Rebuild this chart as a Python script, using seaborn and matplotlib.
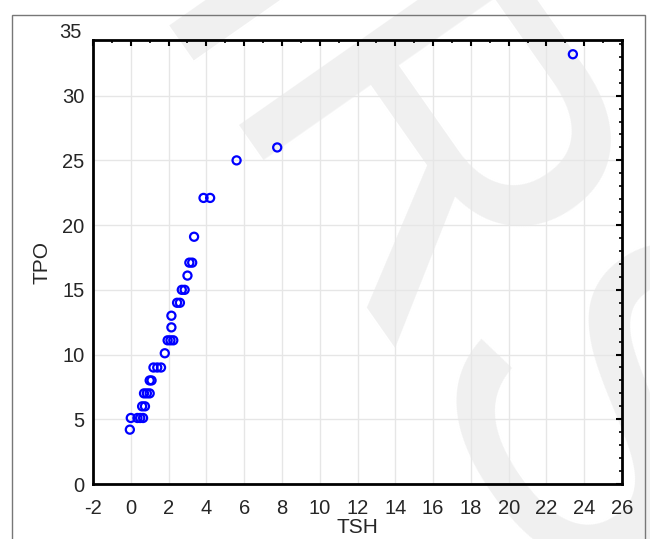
import numpy as np
import pandas as pd
import seaborn as sns
import matplotlib.pyplot as plt
from matplotlib.patches import Rectangle
from matplotlib.ticker import MultipleLocator
import matplotlib.transforms as mtransforms

# valores
tsh = [23.4, 7.75, 5.6, 3.85, 4.2, 3.35, 3.1, 3.25, 3.0, 2.7, 2.85, 2.45, 2.6,
       2.15, 2.15, 1.95, 2.1, 2.25, 1.8, 1.2, 1.4, 1.6, 1.0, 1.1, 0.7, 0.85, 1.0,
       0.6, 0.75, 0.0, 0.35, 0.5, 0.65, -0.05]
tpo = [33.2, 26, 25, 22.1, 22.1, 19.1, 17.1, 17.1, 16.1, 15, 15, 14, 14,
       13, 12.1, 11.1, 11.1, 11.1, 10.1, 9, 9, 9, 8, 8, 7, 7, 7,
       6, 6, 5.1, 5.1, 5.1, 5.1, 4.2]

dados = pd.DataFrame({'TSH': tsh, 'TPO': tpo})

sns.set_style('white')
plt.rcParams['font.family'] = ['Liberation Sans', 'DejaVu Sans']
plt.rcParams['axes.unicode_minus'] = False

fig = plt.figure(figsize=(6.5, 5.39), dpi=100)
ax = fig.add_axes([93/650, 1-484/539, (622-93)/650, (484-40)/539])
ax.patch.set_alpha(0)

# marca d'agua
fig.text(0.68, 0.5, 'IRS', fontsize=330, color='#f0f0f0', rotation=-55,
         ha='center', va='center', zorder=-1)

# moldura externa
fig.patches.append(Rectangle((12/650, -0.02), (645-12)/650, 1.02-15/539,
                             transform=fig.transFigure, fill=False,
                             edgecolor='#777777', linewidth=1))

sns.scatterplot(x='TSH', y='TPO', data=dados, ax=ax, marker='o', s=34,
                facecolor='none', edgecolor='#0000ff', linewidth=1.6, zorder=3)

ax.set_xlim(-2, 26)
ax.set_ylim(0, 34.3)
ax.xaxis.set_major_locator(MultipleLocator(2))
ax.xaxis.set_minor_locator(MultipleLocator(1))
ax.yaxis.set_major_locator(MultipleLocator(5))
ax.yaxis.set_minor_locator(MultipleLocator(1))
ax.set_yticks([0, 5, 10, 15, 20, 25, 30])
ax.grid(True, which='major', color='#e6e6e6', linewidth=1)
ax.tick_params(which='both', direction='in', top=True, right=True,
               labelsize=14.5, color='black')
ax.tick_params(which='major', length=4, width=1.5)
ax.tick_params(which='minor', length=2.5, width=1.2)
ax.tick_params(axis='x', which='major', pad=11)
ax.tick_params(axis='y', which='major', pad=6)
for s in ax.spines.values():
    s.set_visible(True)
    s.set_linewidth(2)
    s.set_color('black')

# rotulo 35 fora do limite do eixo
trans = mtransforms.blended_transform_factory(ax.transAxes, ax.transData)
ax.text(-0.021, 34.9, '35', transform=trans, ha='right', va='center',
        fontsize=14.5, clip_on=False)

ax.set_xlabel('TSH', fontsize=15, labelpad=0)
ax.set_ylabel('TPO', fontsize=15, labelpad=8)

plt.savefig('out.png', dpi=100)
